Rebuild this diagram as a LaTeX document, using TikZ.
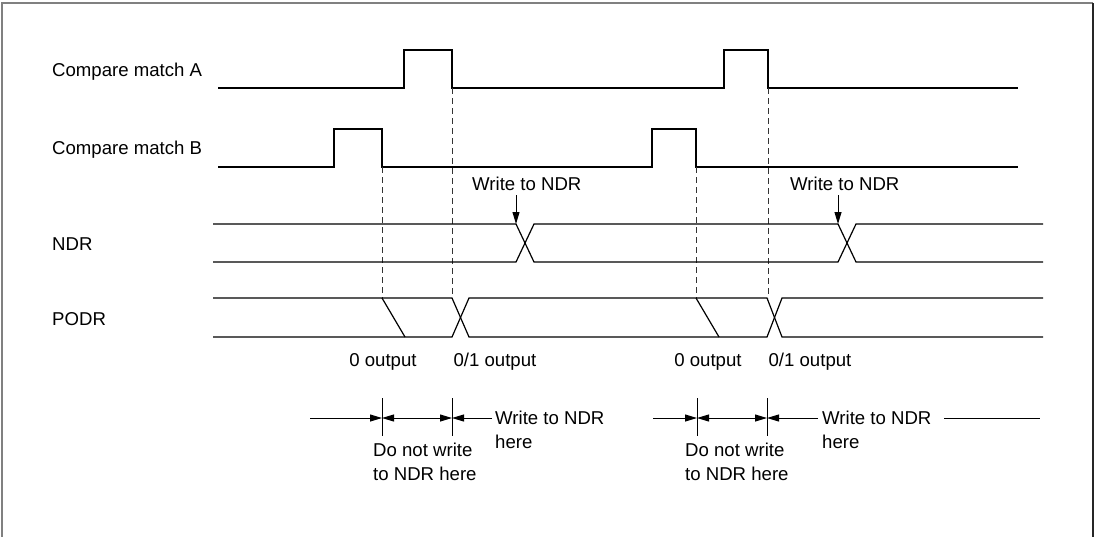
\documentclass[tikz,border=0pt]{standalone}
\usepackage{fontspec}
\setmainfont{Liberation Sans}
\usetikzlibrary{arrows.meta}
\begin{document}
\begin{tikzpicture}[x=1pt,y=-1pt,
  wave/.style={line width=1.2pt,line join=miter},
  guide/.style={line width=1pt,dash pattern=on 6pt off 4pt,black!80},
  lbl/.style={inner sep=0pt,anchor=base west,font=\fontsize{18.6pt}{24pt}\selectfont},
  clbl/.style={lbl,anchor=base},
  dim/.style={line width=1pt},
  tick/.style={line width=1pt},
  tip/.style={-{Triangle[length=12pt,width=7pt]}},
  tipboth/.style={{Triangle[length=12pt,width=7pt]}-{Triangle[length=12pt,width=7pt]}}]
\useasboundingbox (0,0) rectangle (1099,536);
% frame
\draw[line width=2pt,black!50] (2,540) -- (2,3) -- (1093,3);
\draw[line width=1.4pt,black!85] (1093,3) -- (1093,540);

% labels
\node[lbl] (lA) at (52,76) {Compare match A};
\node[lbl] (lB) at (52,154) {Compare match B};
\node[lbl] (lN) at (52,250) {NDR};
\node[lbl] (lP) at (52,325) {PODR};

% Compare match A
\draw[wave] (218,88) -- (404,88) -- (404,50) -- (452,50) -- (452,88) -- (724,88) -- (724,50) -- (768,50) -- (768,88) -- (1018,88);
% Compare match B
\draw[wave] (218,167) -- (334,167) -- (334,129) -- (382,129) -- (382,167) -- (652,167) -- (652,129) -- (696,129) -- (696,167) -- (1018,167);

% dashed guides
\draw[guide] (382,167) -- (382,298);
\draw[guide] (452,88) -- (452,298);
\draw[guide] (696,167) -- (696,298);
\draw[guide] (768,88) -- (768,298);

% NDR
\draw[wave] (213,224) -- (516,224) -- (534,262) -- (838,262) -- (856,224) -- (1043,224);
\draw[wave] (213,262) -- (516,262) -- (534,224) -- (838,224) -- (856,262) -- (1043,262);

% PODR
\draw[wave] (213,298) -- (452,298) -- (469,337) -- (767,337) -- (782,298) -- (1043,298);
\draw[wave] (213,337) -- (452,337) -- (469,298) -- (767,298) -- (782,337) -- (1043,337);
\draw[wave] (382,298) -- (405,337);
\draw[wave] (696,298) -- (719,337);

% Write to NDR arrows
\node[lbl] (w1) at (472,190) {Write to NDR};
\node[lbl] (w2) at (790,190) {Write to NDR};
\coordinate (w1t) at (516,224);
\coordinate (w2t) at (838,224);
\draw[dim,tip] (516,195) -- (w1t);
\draw[dim,tip] (838,195) -- (w2t);

% output labels
\node[clbl] (o1) at (383,366) {0 output};
\node[clbl] (o2) at (495,366) {0/1 output};
\node[clbl] (o3) at (708,366) {0 output};
\node[clbl] (o4) at (810,366) {0/1 output};

% dimension row 1
\coordinate (t1) at (382,418);
\coordinate (t2) at (452,418);
\coordinate (e1) at (492,418);
\draw[tick] (382,398) -- (382,436);
\draw[tick] (452,398) -- (452,436);
\draw[dim,tip] (310,418) -- (t1);
\draw[dim,tipboth] (t1) -- (t2);
\draw[dim,tip] (e1) -- (t2);
\node[lbl] (h1) at (495,424) {Write to NDR};
\node[lbl] (h1b) at (495,448) {here};
\node[lbl] (d1) at (373,456) {Do not write};
\node[lbl] (d1b) at (373,480) {to NDR here};

% dimension row 2
\coordinate (t3) at (697,418);
\coordinate (t4) at (767,418);
\coordinate (e2) at (818,418);
\draw[tick] (697,398) -- (697,436);
\draw[tick] (767,398) -- (767,436);
\draw[dim,tip] (653,418) -- (t3);
\draw[dim,tipboth] (t3) -- (t4);
\draw[dim,tip] (e2) -- (t4);
\node[lbl] (h2) at (822,424) {Write to NDR};
\draw[dim] (944,418) -- (1040,418);
\node[lbl] (h2b) at (822,448) {here};
\node[lbl] (d2) at (685,456) {Do not write};
\node[lbl] (d2b) at (685,480) {to NDR here};
\end{tikzpicture}
\end{document}
